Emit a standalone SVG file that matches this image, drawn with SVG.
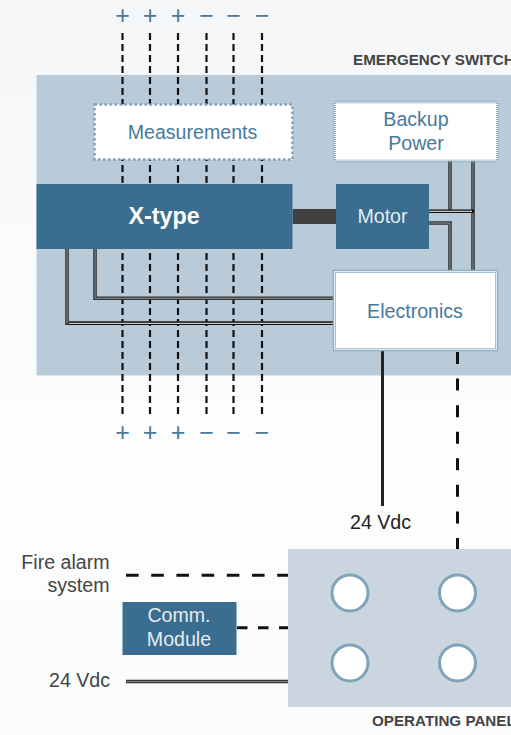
<svg xmlns="http://www.w3.org/2000/svg" width="511" height="735" viewBox="0 0 511 735">
<style>
text{font-family:"Liberation Sans",Arial,sans-serif}
.b{font-size:19.6px;fill:#47799b;text-anchor:middle}
.w{font-size:19.6px;fill:#e4ecf1;text-anchor:middle}
.k{font-size:19.6px;fill:#444;text-anchor:end}
.h{font-size:15.2px;font-weight:bold;fill:#444}
.s{font-size:25px;fill:#47799b;text-anchor:middle}
.d{fill:none;stroke:#111;stroke-width:2.2;stroke-dasharray:7 4}
.o{fill:none;stroke:#333;stroke-width:3.600}
.i{fill:none;stroke:#8b99a3;stroke-width:1}
.f{fill:none;stroke:#111;stroke-width:3.600}
.l{fill:none;stroke:#f4f7f9;stroke-width:1}
.t{fill:#3a6d8f}
.c{fill:#fff;stroke:#7fa3b8;stroke-width:3}
</style>
<defs>
<linearGradient id="bg" x1="0" y1="0" x2="0" y2="1">
<stop offset="0" stop-color="#f5f6f8"/>
<stop offset="0.3" stop-color="#f9fafb"/>
<stop offset="0.6" stop-color="#fcfdfd"/>
<stop offset="1" stop-color="#fbfcfc"/>
</linearGradient>
</defs>
<rect width="511" height="735" fill="url(#bg)"/>
<rect id="switch-panel" x="36.500" y="75" width="474.500" height="300.500" fill="#b9cbd8"/>
<g id="connectors">
<path class="d" d="M122.500 33V416M150 33V416M178 33V416M206.500 33V416M233.500 33V416M262 33V416"/>
<path class="o" d="M95 249V298.300H333M450 161V211M429 223H450V270"/>
<path class="i" d="M95 249V298.300H333M450 161V211M429 223H450V270"/>
<path class="o" d="M67 249V323.300H333M473 161V270"/>
<path class="i" d="M67 249V323.300M473 161V270"/>
<path class="f" d="M69 323.300H333M429 211.300H474"/>
<path class="l" d="M69 323.300H333M429 211.300H472"/>
<path d="M382.500 351V506" fill="none" stroke="#222" stroke-width="3"/>
<path d="M457.500 352V549" fill="none" stroke="#111" stroke-width="3" stroke-dasharray="12 14.570"/>
<path d="M126 575.300H288" fill="none" stroke="#111" stroke-width="3" stroke-dasharray="12.600 12.600"/>
<path d="M237 627.800H288" fill="none" stroke="#111" stroke-width="3" stroke-dasharray="10.500 10.500"/>
<path d="M126 681.500H288" fill="none" stroke="#333" stroke-width="3.500"/>
<path d="M126 681.500H288" fill="none" stroke="#888" stroke-width="1"/>
<rect x="292.500" y="209" width="43.500" height="15" fill="#404040"/>
</g>
<g id="measurements">
<rect x="94.500" y="104.500" width="198" height="55" fill="#fff" stroke="#7fa3b8" stroke-width="2.500" stroke-dasharray="2.500 2.500"/>
<text class="b" x="192.500" y="139">Measurements</text>
</g>
<g id="backup-power">
<rect x="334.500" y="102" width="163" height="59" fill="#fff" stroke="#8fb0c3" stroke-width="3" stroke-dasharray="1 1"/>
<text class="b" x="416" y="126">Backup</text>
<text class="b" x="416" y="149.500">Power</text>
</g>
<g id="x-type">
<rect class="t" x="36.500" y="184" width="256" height="65"/>
<text x="164" y="224" font-size="23.300" font-weight="bold" fill="#fff" text-anchor="middle">X-type</text>
</g>
<g id="motor">
<rect class="t" x="336" y="184" width="93" height="65"/>
<text class="w" x="382.500" y="223">Motor</text>
</g>
<g id="electronics">
<rect x="333.500" y="270.500" width="164" height="80" fill="#fff" stroke="#8fb0c3" stroke-width="1.500"/>
<rect x="335.500" y="272.500" width="160" height="76" fill="none" stroke="#a9c3d2" stroke-width="1"/>
<text class="b" x="415" y="318">Electronics</text>
</g>
<g id="operating-panel">
<rect x="288" y="549" width="223" height="158" fill="#cad5df"/>
<circle class="c" cx="350" cy="593" r="18"/>
<circle class="c" cx="457.500" cy="593" r="18"/>
<circle class="c" cx="350" cy="663" r="18"/>
<circle class="c" cx="457.500" cy="663" r="18"/>
</g>
<g id="comm-module">
<rect class="t" x="122.500" y="602" width="114" height="53"/>
<text class="w" x="179" y="622">Comm.</text>
<text class="w" x="179" y="645.500">Module</text>
</g>
<g id="labels">
<text class="s" x="122.500" y="24">+</text>
<text class="s" x="150" y="24">+</text>
<text class="s" x="178" y="24">+</text>
<text class="s" x="206.500" y="24">−</text>
<text class="s" x="233.500" y="24">−</text>
<text class="s" x="262" y="24">−</text>
<text class="s" x="122.500" y="441">+</text>
<text class="s" x="150" y="441">+</text>
<text class="s" x="178" y="441">+</text>
<text class="s" x="206.500" y="441">−</text>
<text class="s" x="233.500" y="441">−</text>
<text class="s" x="262" y="441">−</text>
<text class="h" x="353" y="65">EMERGENCY SWITCH</text>
<text class="h" x="372" y="726">OPERATING PANEL</text>
<text x="380.500" y="529" font-size="19.600" fill="#222" text-anchor="middle">24 Vdc</text>
<text class="k" x="109.500" y="569">Fire alarm</text>
<text class="k" x="109.500" y="592">system</text>
<text class="k" x="110" y="687">24 Vdc</text>
</g>
</svg>
